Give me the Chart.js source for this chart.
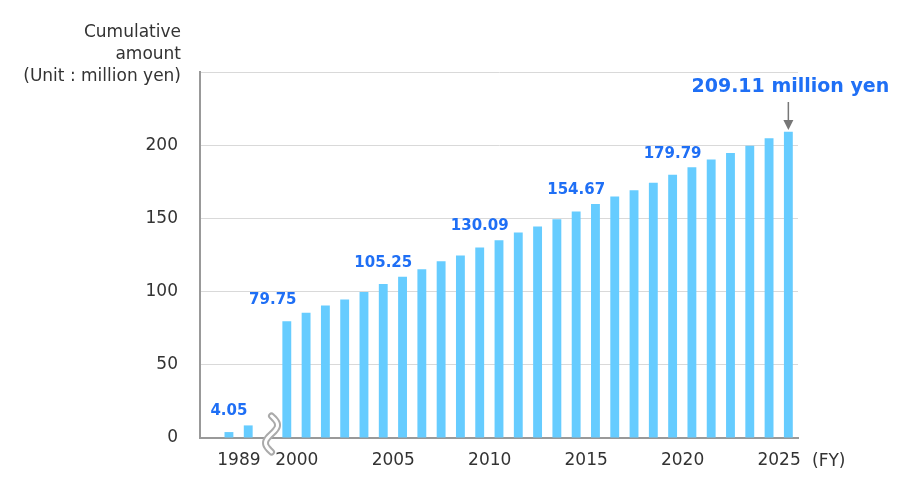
<!DOCTYPE html>
<html lang="en">
<head>
  <meta charset="UTF-8" />
  <title>Cumulative amount</title>
  <script src="https://cdn.jsdelivr.net/npm/chart.js"></script>
  <style>
    body {
      margin: 0;
      background: #ffffff;
    }

    #wrap {
      width: 900px;
      height: 504px;
      position: relative;
    }
  </style>
</head>
<body>
  <div id="wrap">
    <canvas id="amountChart"></canvas>
  </div>

  <script>
    // Categories: leading blank slot, 1989-1990, blank slot for the axis break, 2000-2026
    const years = ['', '1989', '1990', '',
      '2000', '2001', '2002', '2003', '2004', '2005', '2006', '2007', '2008', '2009',
      '2010', '2011', '2012', '2013', '2014', '2015', '2016', '2017', '2018', '2019',
      '2020', '2021', '2022', '2023', '2024', '2025', '2026'];

    // Cumulative amount (million yen)
    const amounts = [null, 4.05, 8.6, null,
      79.75, 85.5, 90.5, 94.6, 99.8, 105.25, 110.1, 115.3, 120.7, 124.6,
      130.09, 135.1, 140.3, 144.4, 149.5, 154.67, 159.8, 164.9, 169.2, 174.3,
      179.79, 185.0, 190.2, 194.6, 199.6, 204.8, 209.11];

    const tickYears = ['1989', '2000', '2005', '2010', '2015', '2020', '2025'];
    const labeledYears = ['1989', '2000', '2005', '2010', '2015', '2020'];
    const highlightYear = '2026';
    const yTitle = ['Cumulative', 'amount', '(Unit : million yen)'];
    const yTicks = [0, 50, 100, 150, 200];

    const FONT = "'DejaVu Sans', Verdana, sans-serif";
    const BLUE = '#1f6ff5';

    const decorations = {
      id: 'decorations',
      afterDatasetsDraw(chart) {
        const ctx = chart.ctx;
        const area = chart.chartArea;
        const xScale = chart.scales.x;
        const bars = chart.getDatasetMeta(0).data;

        ctx.save();

        // y-axis title
        ctx.fillStyle = '#333';
        ctx.font = '17px ' + FONT;
        ctx.textAlign = 'right';
        ctx.textBaseline = 'middle';
        yTitle.forEach((line, i) => ctx.fillText(line, 181, 33 + i * 22));

        // value labels
        ctx.fillStyle = BLUE;
        ctx.font = 'bold 15px ' + FONT;
        ctx.textAlign = 'center';
        labeledYears.forEach(yr => {
          const i = years.indexOf(yr);
          const bar = bars[i];
          const dx = yr === '2000' ? -14 : 0;
          ctx.fillText(amounts[i].toFixed(2), bar.x + dx, bar.y - 21);
        });

        // latest total with arrow
        const hi = years.indexOf(highlightYear);
        const hb = bars[hi];
        ctx.font = 'bold 19px ' + FONT;
        ctx.fillText(amounts[hi].toFixed(2) + ' million yen', hb.x + 2, 87);

        ctx.strokeStyle = '#777';
        ctx.fillStyle = '#777';
        ctx.lineWidth = 1.5;
        ctx.beginPath();
        ctx.moveTo(hb.x, 102);
        ctx.lineTo(hb.x, 122);
        ctx.stroke();
        ctx.beginPath();
        ctx.moveTo(hb.x - 5, 120);
        ctx.lineTo(hb.x + 5, 120);
        ctx.lineTo(hb.x, 130);
        ctx.closePath();
        ctx.fill();

        // (FY) unit
        ctx.fillStyle = '#333';
        ctx.font = '17px ' + FONT;
        ctx.textAlign = 'left';
        ctx.fillText('(FY)', area.right + 14, 462);

        // axis break mark
        const cx = xScale.getPixelForValue(3) + 4;
        const y0 = 416, h = 36;
        const wave = () => {
          ctx.beginPath();
          for (let k = 0; k <= 36; k++) {
            const t = k / 36;
            const px = cx + 6 * Math.sin(t * Math.PI * 2);
            const py = y0 + t * h;
            if (k === 0) ctx.moveTo(px, py); else ctx.lineTo(px, py);
          }
          ctx.stroke();
        };
        ctx.lineCap = 'round';
        ctx.lineJoin = 'round';
        ctx.strokeStyle = '#aaa';
        ctx.lineWidth = 7;
        wave();
        ctx.strokeStyle = '#fff';
        ctx.lineWidth = 3;
        wave();

        ctx.restore();
      }
    };

    new Chart(document.getElementById('amountChart'), {
      type: 'bar',
      data: {
        labels: years,
        datasets: [{
          data: amounts,
          backgroundColor: '#66ccff',
          barPercentage: 0.46,
          categoryPercentage: 1
        }]
      },
      options: {
        responsive: true,
        maintainAspectRatio: false,
        animation: false,
        layout: {
          padding: { top: 72, right: 102, left: 0, bottom: 0 }
        },
        plugins: {
          legend: { display: false },
          tooltip: { enabled: false }
        },
        scales: {
          x: {
            grid: { display: false, drawTicks: false },
            border: { color: '#999', width: 2 },
            afterFit(scale) { scale.height = 66; },
            ticks: {
              autoSkip: false,
              maxRotation: 0,
              padding: 12,
              labelOffset: 10,
              color: '#333',
              font: { family: FONT, size: 17 },
              callback(value, index) {
                return tickYears.includes(years[index]) ? years[index] : '';
              }
            }
          },
          y: {
            min: 0,
            max: 250,
            afterFit(scale) { scale.width = 200; },
            grid: { color: '#d9d9d9', drawTicks: false },
            border: { color: '#999', width: 2 },
            afterBuildTicks(scale) {
              scale.ticks = yTicks.concat([250]).map(v => ({ value: v }));
            },
            ticks: {
              padding: 22,
              color: '#333',
              font: { family: FONT, size: 17 },
              callback(value) {
                return yTicks.includes(value) ? value : '';
              }
            }
          }
        }
      },
      plugins: [decorations]
    });
  </script>
</body>
</html>
